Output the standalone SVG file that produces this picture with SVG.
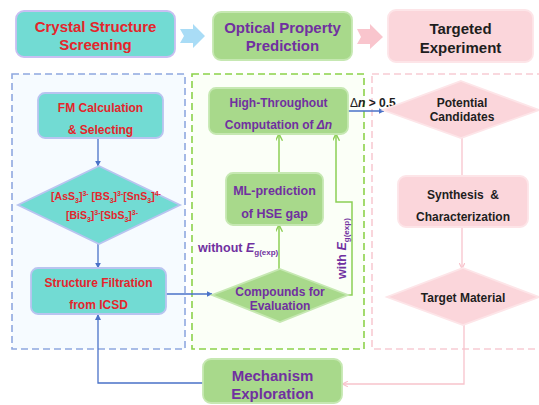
<svg xmlns="http://www.w3.org/2000/svg" width="539" height="405" viewBox="0 0 539 405">
<style>
text{font-family:"Liberation Sans",Arial,sans-serif;font-weight:bold;text-anchor:middle}
.red{fill:#e4252b}
.pur{fill:#7030a0}
.blk{fill:#1e1e1e}
.tq{fill:#72dbd3;stroke:#b9c4f0;stroke-width:1.8}
.gr{fill:#a8d98b;stroke:#c6e8b2;stroke-width:1.8}
.pk{fill:#fbd6db;stroke:#fde5e8;stroke-width:1.8}
.bl{fill:none;stroke:#4a72c8;stroke-width:1.3}
.gl{fill:none;stroke:#8ccf55;stroke-width:1.5}
.pl{fill:none;stroke:#f8c3cc;stroke-width:1.3}
</style>
<defs>
<marker id="ab" viewBox="0 0 10 10" refX="9" refY="5" markerWidth="6" markerHeight="6" markerUnits="userSpaceOnUse" orient="auto"><path d="M0,0L10,5L0,10z" fill="#4a72c8"/></marker>
<marker id="ag" viewBox="0 0 10 10" refX="9" refY="5" markerWidth="7" markerHeight="7" markerUnits="userSpaceOnUse" orient="auto"><path d="M0,0L10,5L0,10" fill="none" stroke="#8ccf55" stroke-width="2"/></marker>
<marker id="ap" viewBox="0 0 10 10" refX="9" refY="5" markerWidth="6" markerHeight="6" markerUnits="userSpaceOnUse" orient="auto"><path d="M0,0L10,5L0,10" fill="none" stroke="#f8c3cc" stroke-width="2"/></marker>
</defs>
<rect width="539" height="405" fill="#ffffff"/>

<g id="containers">
<rect x="12" y="74" width="173" height="275" fill="#f6fbff" stroke="#8fa8e0" stroke-width="1.6" stroke-dasharray="7 4"/>
<rect x="192" y="74" width="172" height="275" fill="#fbfff7" stroke="#8cd24a" stroke-width="1.6" stroke-dasharray="7 4"/>
<rect x="372" y="74" width="175" height="275" fill="#ffffff" stroke="#f8cbd3" stroke-width="1.6" stroke-dasharray="7 4"/>
</g>

<g id="top-arrows">
<polygon points="180,29 193,29 193,24 205,36 193,48 193,43 180,43 184,36" fill="#a9dcf6"/>
<polygon points="357,29 370,29 370,24 383,37 370,49 370,44 357,44 361,37" fill="#f9c5cd"/>
</g>

<g id="crystal">
<rect class="tq" x="16" y="11" width="159" height="46" rx="8" style="stroke:#c9bff2"/>
<text class="red" x="95.5" y="31.5" font-size="15">Crystal Structure</text>
<text class="red" x="95.5" y="49.5" font-size="15">Screening</text>
</g>
<g id="optical">
<rect class="gr" x="213" y="12" width="139" height="48" rx="8"/>
<text class="pur" x="282.5" y="33" font-size="15">Optical Property</text>
<text class="pur" x="282.5" y="51" font-size="15">Prediction</text>
</g>
<g id="targeted">
<rect class="pk" x="388" y="10" width="145" height="52" rx="8"/>
<text class="blk" x="460.5" y="33.5" font-size="15">Targeted</text>
<text class="blk" x="460.5" y="52.5" font-size="15">Experiment</text>
</g>

<g id="connectors">
<line class="bl" x1="98" y1="138" x2="98" y2="166" marker-end="url(#ab)"/>
<line class="bl" x1="98" y1="244" x2="98" y2="268" marker-end="url(#ab)"/>
<line class="bl" x1="166" y1="294" x2="212" y2="294" marker-end="url(#ab)"/>
<polyline class="bl" points="203,383 98,383 98,314.5" marker-end="url(#ab)"/>
<line class="gl" x1="279" y1="269" x2="279" y2="225.5" marker-end="url(#ag)"/>
<line class="gl" x1="279" y1="173" x2="279" y2="134.5" marker-end="url(#ag)"/>
<polyline class="gl" points="348,295 352,295 352,202 336,202 336,134.5" marker-end="url(#ag)"/>
<line class="bl" x1="348" y1="111" x2="384" y2="111" marker-end="url(#ab)" style="stroke-width:1.5"/>
<line class="pl" x1="462" y1="138" x2="462" y2="176"/>
<line class="pl" x1="462" y1="227" x2="462" y2="268" marker-end="url(#ap)"/>
<polyline class="pl" points="464,325 464,384 343,384" marker-end="url(#ap)"/>
</g>

<g id="labels">
<text class="blk" x="350" y="107" font-size="12" style="text-anchor:start"><tspan font-weight="normal">Δ</tspan><tspan font-style="italic">n</tspan> &gt; 0.5</text>
<text class="pur" x="198" y="252" font-size="12.5" style="text-anchor:start">without <tspan font-style="italic">E</tspan><tspan font-size="8" dy="3">g(exp)</tspan></text>
<text class="pur" font-size="12.5" transform="translate(346,279) rotate(-90)" style="text-anchor:start">with <tspan font-style="italic">E</tspan><tspan font-size="8" dy="3">g(exp)</tspan></text>
</g>

<g id="fm">
<rect class="tq" x="38" y="93" width="125" height="45" rx="7"/>
<text class="red" x="100.5" y="112.3" font-size="12">FM Calculation</text>
<text class="red" x="100.5" y="134.3" font-size="12">&amp; Selecting</text>
</g>
<g id="anions">
<polygon class="tq" points="99,166 180,205 99,244 18,205"/>
<text class="red" x="106" y="200" font-size="10.5">[AsS<tspan font-size="7" dy="3">3</tspan><tspan dy="-3">]</tspan><tspan font-size="7" dy="-4">3-</tspan><tspan dy="4"> [BS</tspan><tspan font-size="7" dy="3">3</tspan><tspan dy="-3">]</tspan><tspan font-size="7" dy="-4">3-</tspan><tspan dy="4">[SnS</tspan><tspan font-size="7" dy="3">3</tspan><tspan dy="-3">]</tspan><tspan font-size="7" dy="-4">4-</tspan></text>
<text class="red" x="102" y="219" font-size="10.5">[BiS<tspan font-size="7" dy="3">3</tspan><tspan dy="-3">]</tspan><tspan font-size="7" dy="-4">3-</tspan><tspan dy="4">[SbS</tspan><tspan font-size="7" dy="3">3</tspan><tspan dy="-3">]</tspan><tspan font-size="7" dy="-4">3-</tspan></text>
</g>
<g id="filtration">
<rect class="tq" x="31" y="268" width="135" height="46" rx="7"/>
<text class="red" x="98.5" y="287.3" font-size="12">Structure Filtration</text>
<text class="red" x="98.5" y="309.3" font-size="12">from ICSD</text>
</g>

<g id="htc">
<rect class="gr" x="209" y="88" width="139" height="46" rx="7"/>
<text class="pur" x="278.5" y="107.3" font-size="12">High-Throughout</text>
<text class="pur" x="278.5" y="128.5" font-size="12">Computation of <tspan font-style="italic">Δn</tspan></text>
</g>
<g id="ml">
<rect class="gr" x="226" y="173" width="97" height="52" rx="7"/>
<text class="pur" x="274.5" y="194.5" font-size="12.5">ML-prediction</text>
<text class="pur" x="274.5" y="217.5" font-size="12.5">of HSE gap</text>
</g>
<g id="compounds">
<polygon class="gr" points="280,269 348,295 280,322 212,295"/>
<text class="pur" x="280" y="295.5" font-size="12">Compounds for</text>
<text class="pur" x="280" y="309.5" font-size="12">Evaluation</text>
</g>
<g id="mechanism">
<rect class="gr" x="203" y="359" width="139" height="44" rx="8"/>
<text class="pur" x="272.5" y="380.5" font-size="15">Mechanism</text>
<text class="pur" x="272.5" y="398.5" font-size="15">Exploration</text>
</g>

<g id="candidates">
<polygon class="pk" points="461,81 539,110 461,138 383,110"/>
<text class="blk" x="462" y="106.5" font-size="12">Potential</text>
<text class="blk" x="462" y="120.5" font-size="12">Candidates</text>
</g>
<g id="synthesis">
<rect class="pk" x="398" y="176" width="130" height="51" rx="8"/>
<text class="blk" x="463" y="198.5" font-size="12" xml:space="preserve">Synthesis  &amp;</text>
<text class="blk" x="463" y="220.5" font-size="12">Characterization</text>
</g>
<g id="target">
<polygon class="pk" points="463,268 539,297 463,325 387,297"/>
<text class="blk" x="463" y="301.5" font-size="12">Target Material</text>
</g>
</svg>
